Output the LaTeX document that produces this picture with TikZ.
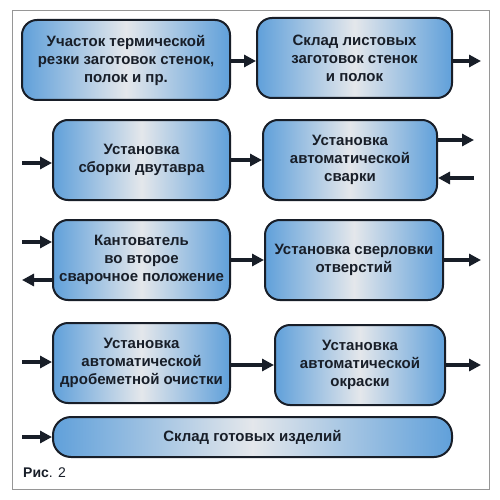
\documentclass[tikz,border=0pt]{standalone}
\usepackage{fontspec}
\setmainfont{Liberation Sans}
\usetikzlibrary{arrows.meta,calc}
\definecolor{edgeblue}{RGB}{96,160,218}
\definecolor{midgray}{RGB}{228,231,235}
\definecolor{ink}{RGB}{24,30,40}
\definecolor{framegray}{RGB}{150,150,150}
\tikzset{
  proc/.style={draw=ink, line width=2pt, rounded corners=15pt, minimum height=80pt,
    left color=edgeblue, right color=edgeblue, middle color=midgray,
    text=ink, align=center, inner sep=1pt,
    font=\fontsize{15}{18}\selectfont\bfseries},
  arr/.style={draw=ink, line width=3.2pt, -{Triangle[length=12pt,width=12pt]}},
}
\begin{document}
\begin{tikzpicture}[x=1pt,y=-1pt]
\useasboundingbox (0,0) rectangle (500,500);
\fill[white] (0,0) rectangle (500,500);
\draw[framegray, line width=0.8pt] (12,10) rectangle (489,489);

\node[proc, minimum width=208pt] (b1) at (126,60) {Участок термической\\резки заготовок стенок,\\полок и пр.};
\node[proc, minimum width=195pt] (b2) at (354.5,58) {Склад листовых\\заготовок стенок\\и полок};
\node[proc, minimum width=177pt] (b3) at (141.5,160) {Установка\\сборки двутавра};
\node[proc, minimum width=174pt] (b4) at (350,160) {Установка\\автоматической\\сварки};
\node[proc, minimum width=177pt] (b5) at (141.5,260) {Кантователь\\во второе\\сварочное положение};
\node[proc, minimum width=178pt] (b6) at (354,260) {Установка сверловки\\отверстий};
\node[proc, minimum width=177pt] (b7) at (141.5,363) {Установка\\автоматической\\дробеметной очистки};
\node[proc, minimum width=170pt] (b8) at (360,365) {Установка\\автоматической\\окраски};
\node[proc, minimum width=399pt, minimum height=40pt, rounded corners=18pt] (b9) at (252.5,437) {Склад готовых изделий};

\node[anchor=west, text=ink, inner sep=0pt, font=\fontsize{14}{16}\selectfont] (cap) at (23,473) {\textbf{Рис}. 2};

% connectors
\coordinate (o2) at (481,61);
\coordinate (i3) at (22,163);
\coordinate (o4) at (474,140);
\coordinate (i4) at (474,178);
\coordinate (i5) at (22,242);
\coordinate (o5) at (22,280);
\coordinate (o6) at (481,260);
\coordinate (i7) at (22,362);
\coordinate (o8) at (481,365);
\coordinate (i9) at (22,437);

\draw[arr] (b1.east |- 0,61) -- (b2.west |- 0,61);
\draw[arr] (o2 -| b2.east) -- (o2);
\draw[arr] (i3) -- (i3 -| b3.west);
\draw[arr] (b3) -- (b4);
\draw[arr] (o4 -| b4.east) -- (o4);
\draw[arr] (i4) -- (i4 -| b4.east);
\draw[arr] (i5) -- (i5 -| b5.west);
\draw[arr] (o5 -| b5.west) -- (o5);
\draw[arr] (b5) -- (b6);
\draw[arr] (o6 -| b6.east) -- (o6);
\draw[arr] (i7) -- (i7 -| b7.west);
\draw[arr] (b7.east |- 0,365) -- (b8.west |- 0,365);
\draw[arr] (o8 -| b8.east) -- (o8);
\draw[arr] (i9) -- (i9 -| b9.west);
\end{tikzpicture}
\end{document}
